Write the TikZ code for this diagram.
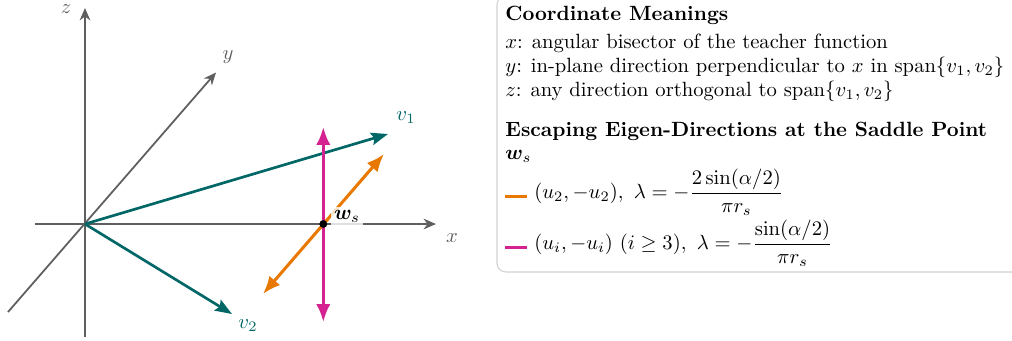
\documentclass[tikz,border=0pt]{standalone}
\usepackage{amsmath,amssymb,bm}
\usetikzlibrary{arrows.meta}
\definecolor{axisgray}{RGB}{95,95,95}
\definecolor{tealv}{RGB}{0,102,102}
\definecolor{orng}{RGB}{232,120,0}
\definecolor{mgnt}{RGB}{212,35,145}
\begin{document}
\begin{tikzpicture}[x=0.5625pt,y=-0.5625pt,
  every node/.append style={scale=1.16},
  axis/.style={draw=axisgray,line width=1pt,-{Stealth[length=7pt,width=6pt]}},
  vec/.style={draw=tealv,line width=1.5pt,-{Stealth[length=9.5pt,width=7pt,inset=1.5pt]}},
  eig/.style={line width=1.7pt,{Latex[length=10pt,width=8pt]}-{Latex[length=10pt,width=8pt]}},
  axlbl/.style={text=axisgray},
  veclbl/.style={text=tealv},
  legtxt/.style={anchor=base west,inner sep=0pt},
  legline/.style={line width=1.8pt}]
\useasboundingbox (0,0) rectangle (1012,340);
% legend box
\draw[rounded corners=5pt,draw=black!18,line width=0.6pt,fill=white] (497,-4) rectangle (1040,272);
% axes
\coordinate (O) at (85,224);
\coordinate (zb) at (85,337);
\coordinate (zt) at (85,8);
\coordinate (xl) at (35,224);
\coordinate (xr) at (436,224);
\coordinate (yb) at (8,312);
\coordinate (yt) at (216,72.5);
\draw[axis] (zb) -- (zt);
\draw[axis] (xl) -- (xr);
\draw[axis] (yb) -- (yt);
\node[axlbl,inner sep=0pt] (zlab) at (66,9) {$z$};
\node[axlbl] (xlab) at (452,238) {$x$};
\node[axlbl] (ylab) at (228,57) {$y$};
% teacher vectors
\coordinate (v1) at (388,134);
\coordinate (v2) at (232,314);
\draw[vec] (O) -- (v1);
\draw[vec] (O) -- (v2);
\node[veclbl] (v1lab) at (406,118) {$v_1$};
\node[veclbl] (v2lab) at (248,326) {$v_2$};
% eigen directions
\coordinate (ws) at (323.3,224);
\coordinate (oa) at (384,154);
\coordinate (ob) at (263,294);
\coordinate (ma) at (323.3,127);
\coordinate (mb) at (323.3,322);
\draw[eig,orng] (ob) -- (oa);
\draw[eig,mgnt] (mb) -- (ma);
\node[circle,fill=black,inner sep=0pt,minimum size=3.8pt] (wsdot) at (ws) {};
\node[anchor=base west,fill=white,fill opacity=0.8,text opacity=1,inner sep=1.3pt] (wslab) at (331,219) {$\bm{w}_s$};
% legend text
\node[legtxt] (t1) at (505,20.7) {\textbf{Coordinate Meanings}};
\node[legtxt] (l1) at (505,48.5) {$x$:\hspace{4.3pt}angular bisector of the teacher function};
\node[legtxt] (l2) at (505,72.5) {$y$:\hspace{4.3pt}in-plane direction perpendicular to $x$ in $\operatorname{span}\{v_1,v_2\}$};
\node[legtxt] (l3) at (505,96.5) {$z$:\hspace{4.3pt}any direction orthogonal to $\operatorname{span}\{v_1,v_2\}$};
\node[legtxt] (t2) at (505,136) {\textbf{Escaping Eigen-Directions at the Saddle Point}};
\node[legtxt] (t3) at (505,159.5) {$\bm{w}_s$};
\coordinate (o1) at (505,196.7);
\coordinate (o2) at (527,196.7);
\coordinate (m1) at (505,247.3);
\coordinate (m2) at (527,247.3);
\draw[legline,orng] (o1) -- (o2);
\draw[legline,mgnt] (m1) -- (m2);
\node[legtxt] (e1) at (534,198.5) {$(u_2,-u_2),\ \lambda=-\dfrac{2\sin(\alpha/2)}{\pi r_s}$};
\node[legtxt] (e2) at (534,249.5) {$(u_i,-u_i)\ (i\ge 3),\ \lambda=-\dfrac{\sin(\alpha/2)}{\pi r_s}$};
\end{tikzpicture}
\end{document}
